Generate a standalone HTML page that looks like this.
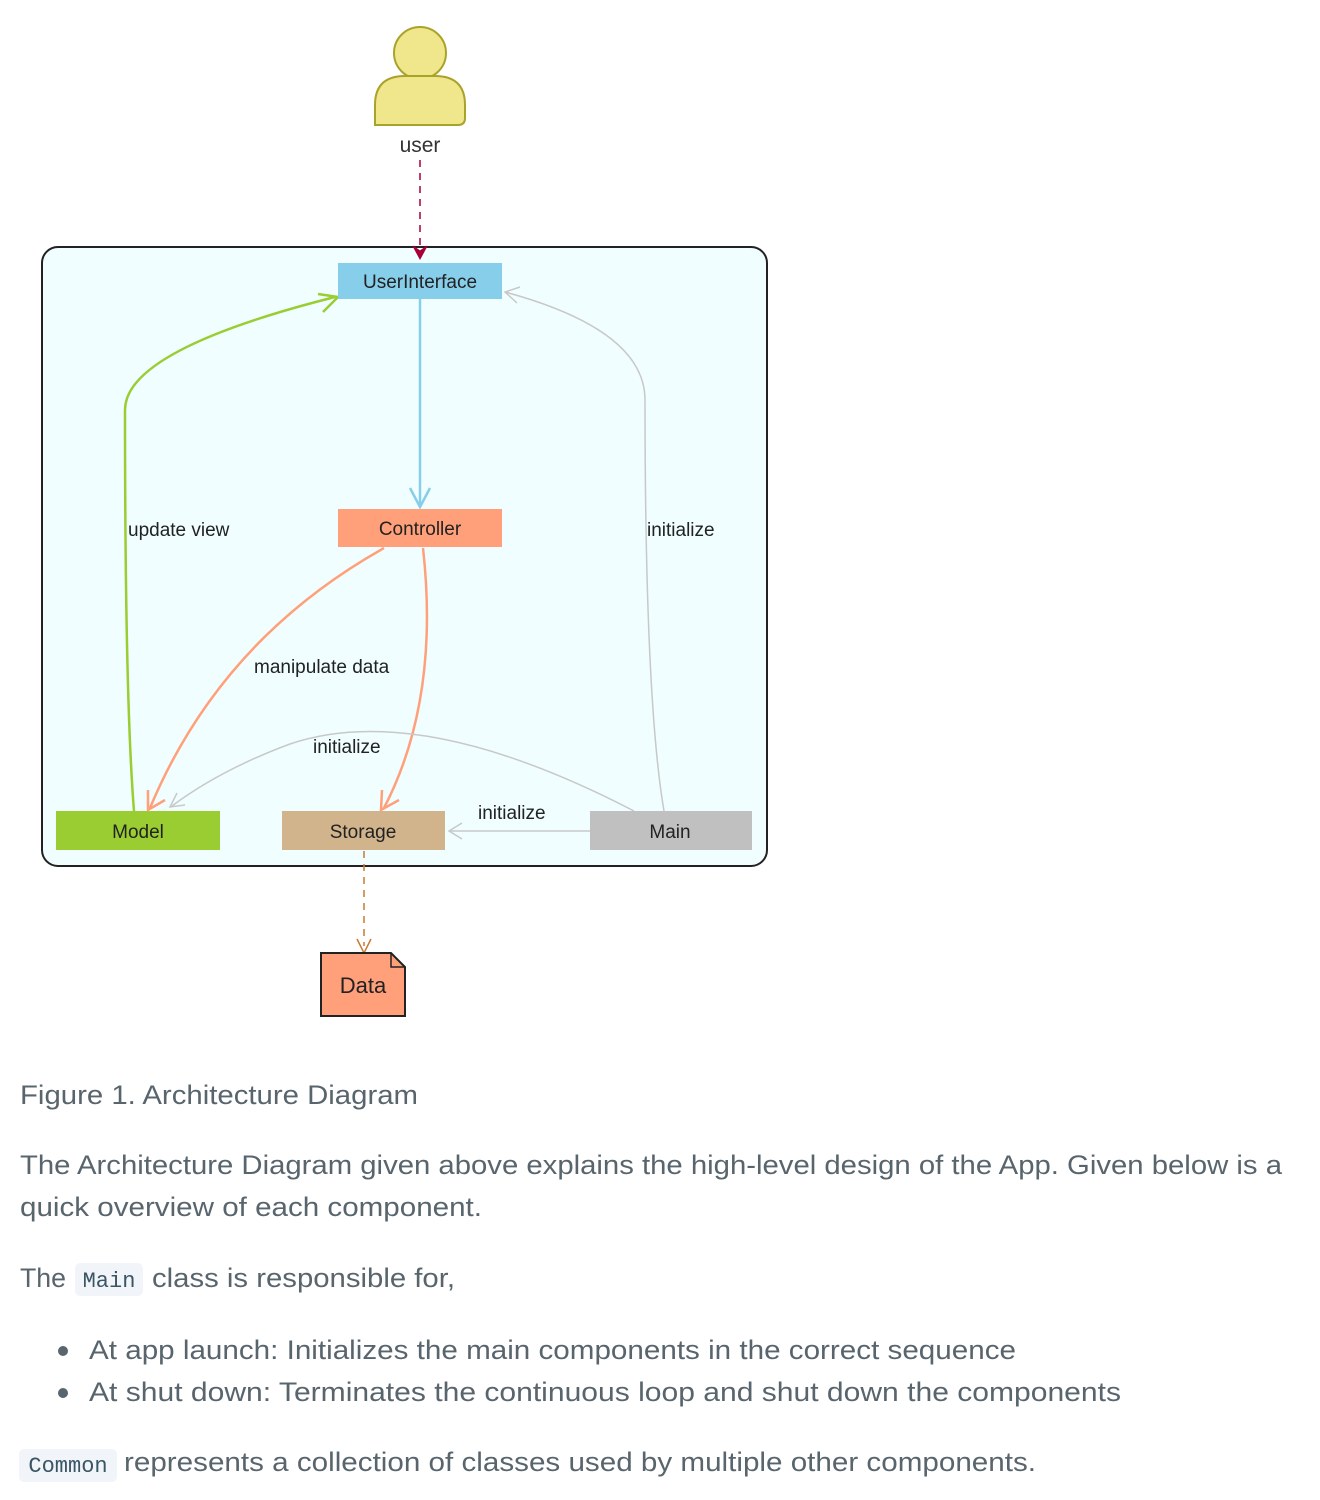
<!DOCTYPE html>
<html><head><meta charset="utf-8"><style>
html,body{margin:0;padding:0;background:#fff;}
svg{display:block;}
.t{font-family:"Liberation Sans",sans-serif;fill:#59656d;font-size:27px;}
.d{font-family:"Liberation Sans",sans-serif;fill:#222;font-size:19px;}
.m{font-family:"Liberation Mono",monospace;fill:#3a5564;font-size:22px;}
</style></head><body>
<svg width="1320" height="1500" viewBox="0 0 1320 1500" xmlns="http://www.w3.org/2000/svg">
<!-- actor -->
<circle cx="420" cy="53" r="26" fill="#f0e68c" stroke="#a9a32a" stroke-width="2"/>
<path d="M375,125 L375,105 Q375,76 405,76 L435,76 Q465,76 465,105 L465,118 Q465,125 458,125 Z" fill="#f0e68c" stroke="#a9a32a" stroke-width="2"/>
<text x="420" y="152" class="d" text-anchor="middle" style="font-size:21px;fill:#333">user</text>
<!-- container -->
<rect x="42" y="247" width="725" height="619" rx="16" fill="#f0feff" stroke="#222" stroke-width="2"/>
<line x1="420" y1="160" x2="420" y2="255" stroke="#a80036" stroke-width="1.5" stroke-dasharray="7,6"/>
<path d="M413,246 L420,259 L427,246 L420,251 Z" fill="#a80036" stroke="#a80036" stroke-width="1"/>
<!-- edges -->
<path d="M134,811 Q125,700 125,410 Q125,350 335,297" fill="none" stroke="#9acd32" stroke-width="2.5"/>
<path d="M318,294 L338,297 L323,312" fill="none" stroke="#9acd32" stroke-width="2.5"/>
<line x1="420" y1="299" x2="420" y2="505" stroke="#87ceeb" stroke-width="2.5"/>
<path d="M410,488 L420,507 L430,488" fill="none" stroke="#87ceeb" stroke-width="2.5"/>
<path d="M384,548 Q220,640 150,808" fill="none" stroke="#ffa07a" stroke-width="2.5"/>
<path d="M148,790 L148,810 L165,800" fill="none" stroke="#ffa07a" stroke-width="2.5"/>
<path d="M423,548 Q440,700 384,808" fill="none" stroke="#ffa07a" stroke-width="2.5"/>
<path d="M382,790 L381,810 L399,800" fill="none" stroke="#ffa07a" stroke-width="2.5"/>
<path d="M664,811 Q645,700 645,400 Q645,330 505,292" fill="none" stroke="#c8c8c8" stroke-width="1.5"/>
<path d="M520,287 L505,292 L517,303" fill="none" stroke="#c8c8c8" stroke-width="1.5"/>
<path d="M634,811 Q420,700 290,744 Q220,770 172,806" fill="none" stroke="#c8c8c8" stroke-width="1.5"/>
<path d="M177,793 L170,807 L185,805" fill="none" stroke="#c8c8c8" stroke-width="1.5"/>
<line x1="590" y1="831" x2="449" y2="831" stroke="#c8c8c8" stroke-width="1.5"/>
<path d="M462,823 L449,831 L462,839" fill="none" stroke="#c8c8c8" stroke-width="1.5"/>
<!-- nodes -->
<rect x="338" y="263" width="164" height="36" fill="#87ceeb"/>
<text x="420" y="288" class="d" text-anchor="middle">UserInterface</text>
<rect x="338" y="509" width="164" height="38" fill="#ffa07a"/>
<text x="420" y="535" class="d" text-anchor="middle">Controller</text>
<rect x="56" y="811" width="164" height="39" fill="#9acd32"/>
<text x="138" y="838" class="d" text-anchor="middle">Model</text>
<rect x="282" y="811" width="163" height="39" fill="#d2b48c"/>
<text x="363" y="838" class="d" text-anchor="middle">Storage</text>
<rect x="590" y="811" width="162" height="39" fill="#c0c0c0"/>
<text x="670" y="838" class="d" text-anchor="middle">Main</text>
<!-- labels -->
<text x="128" y="536" class="d">update view</text>
<text x="647" y="536" class="d">initialize</text>
<text x="254" y="673" class="d">manipulate data</text>
<text x="313" y="753" class="d">initialize</text>
<text x="478" y="819" class="d">initialize</text>
<!-- data -->
<line x1="364" y1="851" x2="364" y2="946" stroke="#c87a30" stroke-width="1.5" stroke-dasharray="7,6"/>
<path d="M357,939 L364,953 L371,939" fill="none" stroke="#c87a30" stroke-width="1.5"/>
<path d="M321,953 L391,953 L405,967 L405,1016 L321,1016 Z" fill="#ffa07a" stroke="#222" stroke-width="2"/>
<path d="M391,953 L391,967 L405,967" fill="none" stroke="#222" stroke-width="1.5"/>
<text x="363" y="993" class="d" text-anchor="middle" style="font-size:22px">Data</text>
<!-- text -->
<text x="20" y="1104" class="t" textLength="398" lengthAdjust="spacingAndGlyphs">Figure 1. Architecture Diagram</text>
<text x="20" y="1174" class="t" textLength="1262" lengthAdjust="spacingAndGlyphs">The Architecture Diagram given above explains the high-level design of the App. Given below is a</text>
<text x="20" y="1216" class="t" textLength="462" lengthAdjust="spacingAndGlyphs">quick overview of each component.</text>
<text x="20" y="1287" class="t" textLength="46" lengthAdjust="spacingAndGlyphs">The</text>
<rect x="75" y="1263" width="68" height="33" rx="5" fill="#f1f5f9"/>
<text x="109" y="1287" class="m" text-anchor="middle">Main</text>
<text x="152" y="1287" class="t" textLength="303" lengthAdjust="spacingAndGlyphs">class is responsible for,</text>
<circle cx="63" cy="1351" r="5" fill="#59656d"/>
<text x="89" y="1359" class="t" textLength="927" lengthAdjust="spacingAndGlyphs">At app launch: Initializes the main components in the correct sequence</text>
<circle cx="63" cy="1393" r="5" fill="#59656d"/>
<text x="89" y="1401" class="t" textLength="1032" lengthAdjust="spacingAndGlyphs">At shut down: Terminates the continuous loop and shut down the components</text>
<rect x="19" y="1449" width="98" height="33" rx="5" fill="#f1f5f9"/>
<text x="68" y="1472" class="m" text-anchor="middle">Common</text>
<text x="124" y="1471" class="t" textLength="912" lengthAdjust="spacingAndGlyphs">represents a collection of classes used by multiple other components.</text>
</svg>
</body></html>
